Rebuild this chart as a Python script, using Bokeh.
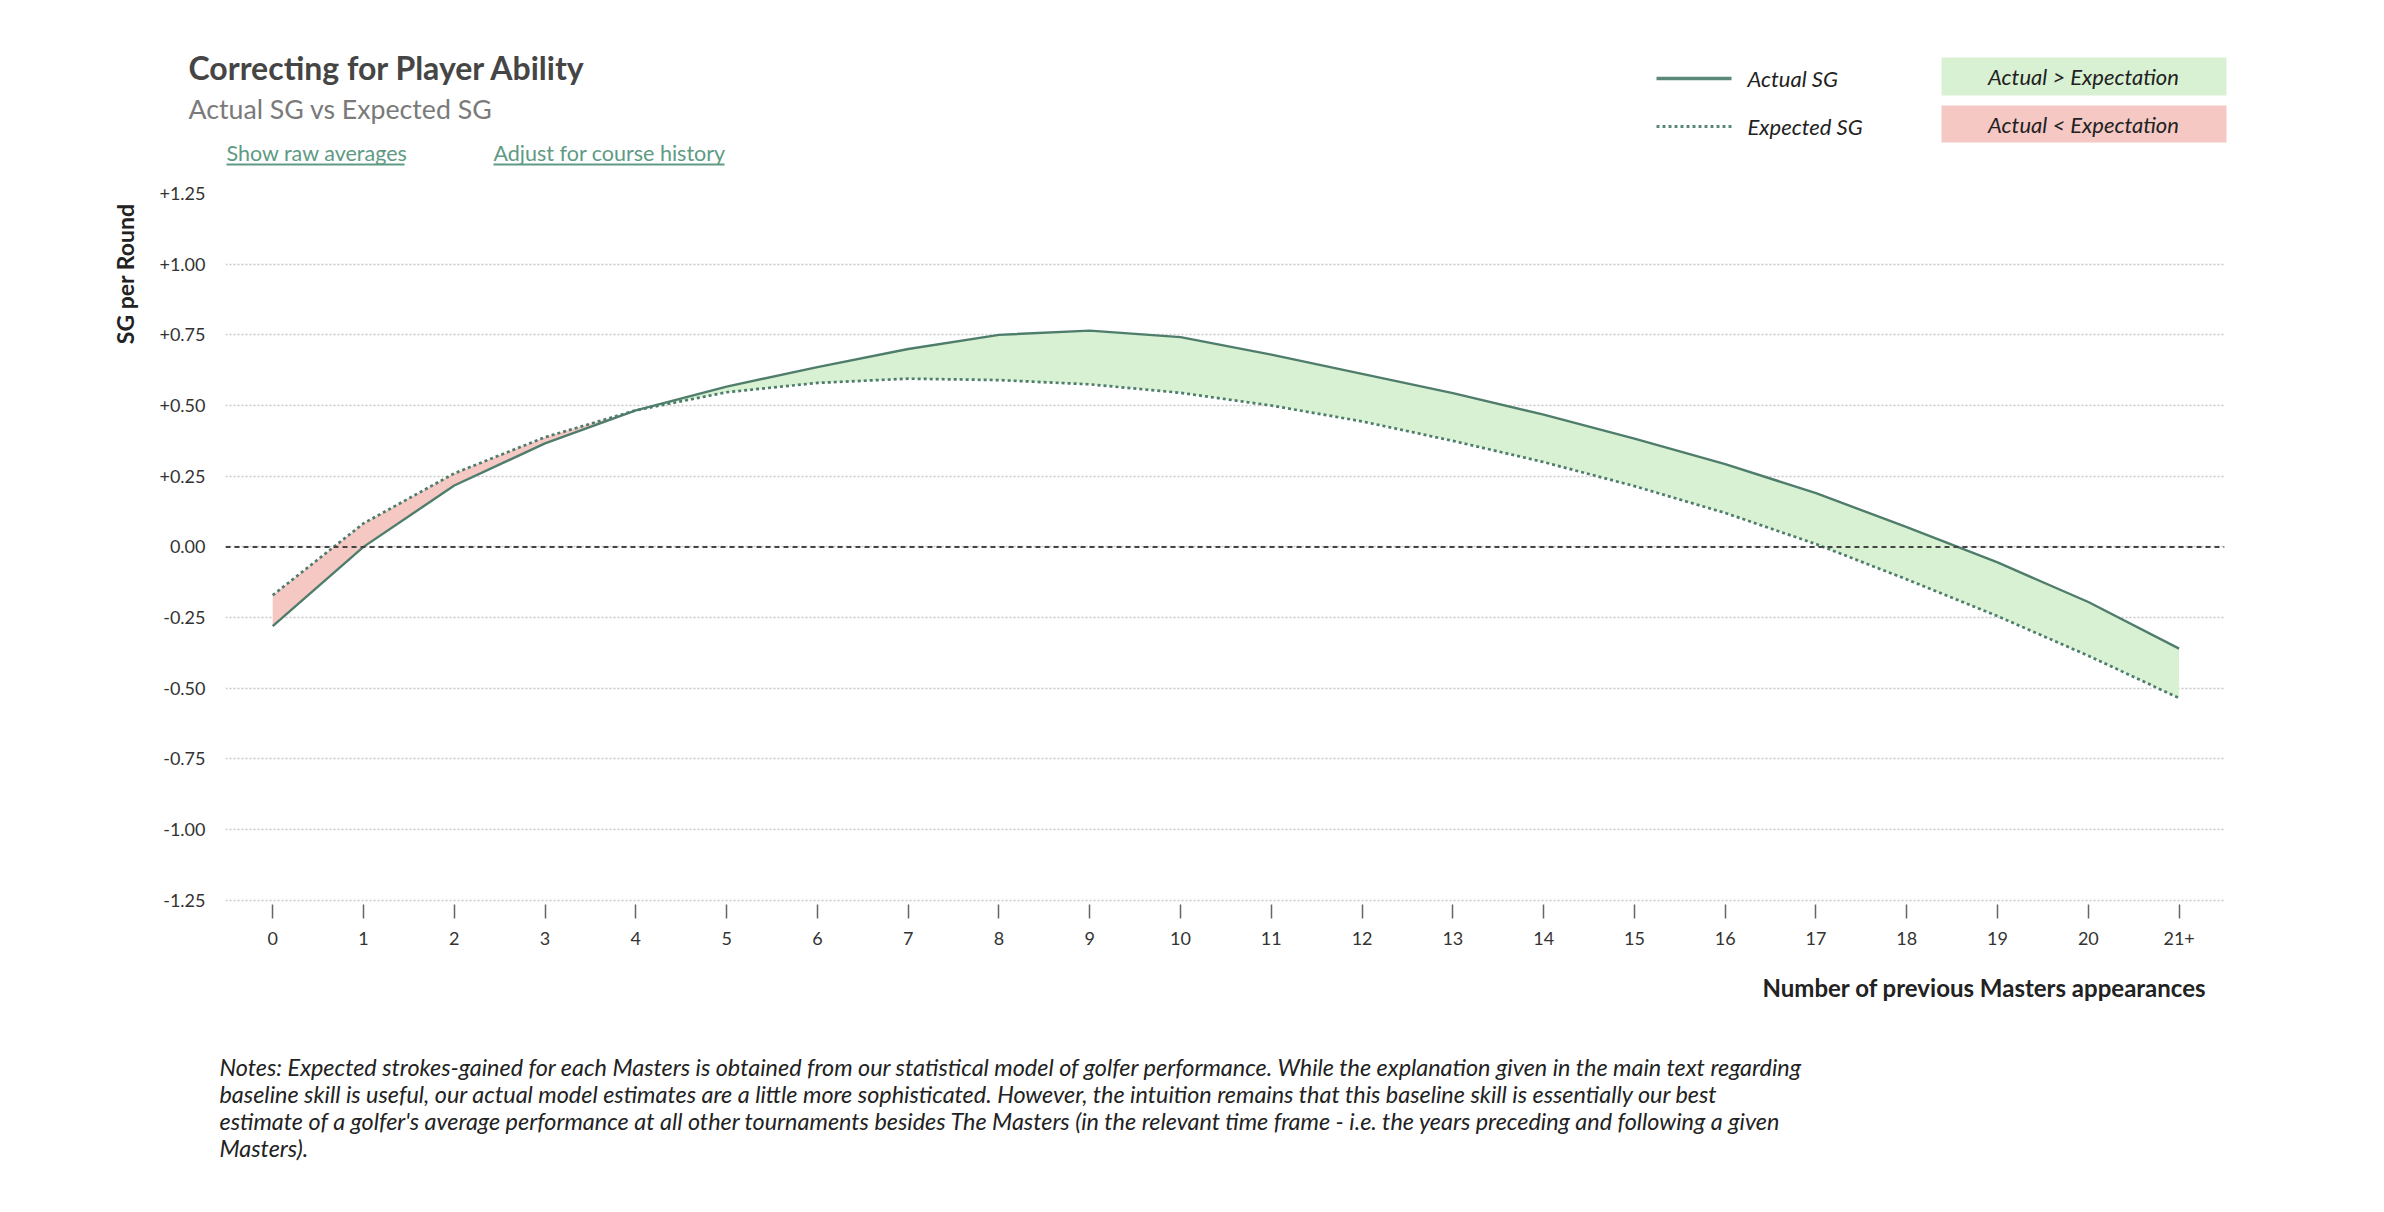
from bokeh.plotting import figure
from bokeh.models import (Range1d, FixedTicker, CustomJSTickFormatter, Span, Label, Title,
                          ColumnDataSource)
from bokeh.embed import file_html
from bokeh.resources import INLINE

# ---------------- data ----------------
appearances = list(range(22))
x_tick_labels = [str(i) for i in range(21)] + ["21+"]
actual_sg = [-0.28, 0.0, 0.217, 0.366, 0.483, 0.567, 0.636, 0.70, 0.75, 0.765, 0.742,
             0.68, 0.612, 0.544, 0.468, 0.383, 0.293, 0.19, 0.07, -0.055, -0.195, -0.36]
expected_sg = [-0.171, 0.083, 0.26, 0.388, 0.483, 0.547, 0.58, 0.595, 0.59, 0.575, 0.545,
               0.50, 0.444, 0.375, 0.30, 0.215, 0.12, 0.01, -0.115, -0.245, -0.385, -0.535]
y_ticks = [-1.25, -1.0, -0.75, -0.5, -0.25, 0.0, 0.25, 0.5, 0.75, 1.0, 1.25]
crossing_index = 4  # actual below expectation before, above after
legend_lines = ["Actual SG", "Expected SG"]
legend_boxes = ["Actual > Expectation", "Actual < Expectation"]
links = ["Show raw averages", "Adjust for course history"]
notes = [
    "Notes: Expected strokes-gained for each Masters is obtained from our statistical model of golfer performance. While the explanation given in the main text regarding",
    "baseline skill is useful, our actual model estimates are a little more sophisticated. However, the intuition remains that this baseline skill is essentially our best",
    "estimate of a golfer's average performance at all other tournaments besides The Masters (in the relevant time frame - i.e. the years preceding and following a given",
    "Masters).",
]

FONT = "Lato"
LINE_COL = "#4f7d6c"
GREEN = "#d8f1d2"
RED = "#f5c8c4"
LINK_COL = "#5e9a84"
W = 2368
H_HEAD, H_MAIN, H_FOOT = 183, 782, 231


def blank(height, y_top):
    f = figure(width=W, height=height, output_backend="svg", toolbar_location=None,
               x_range=Range1d(0, W), y_range=Range1d(y_top + height, y_top),
               x_axis_type=None, y_axis_type=None, min_border=0)
    f.outline_line_color = None
    f.grid.visible = False
    f.border_fill_color = "white"
    f.background_fill_color = "white"
    return f


def lab(f, x, y, text, size, color="#222222", style="normal", align="left"):
    f.add_layout(Label(x=x, y=y, text=text, text_font=FONT, text_font_size=size,
                       text_font_style=style, text_color=color, text_align=align,
                       text_baseline="middle"))


# ---------------- header ----------------
head = blank(H_HEAD, 0)
lab(head, 188, 67, "Correcting for Player Ability", "32px", "#454545", "bold")
lab(head, 188, 108, "Actual SG vs Expected SG", "26.7px", "#7a7a7a")
for (x0, x1), txt in zip([(226, 404), (493, 724)], links):
    lab(head, x0, 152, txt, "21.5px", LINK_COL)
    head.segment(x0=[x0], y0=[164], x1=[x1], y1=[164], line_color=LINK_COL, line_width=2)

head.segment(x0=[1656], y0=[78], x1=[1731], y1=[78], line_color="#5a8a77", line_width=3.5)
head.segment(x0=[1656], y0=[126], x1=[1731], y1=[126], line_color="#5a8a77", line_width=3,
             line_dash="3 3")
for yc, txt in zip([78, 126], legend_lines):
    lab(head, 1747, yc, txt, "22px", "#222222", "italic")

head.quad(left=[1941, 1941], right=[2226, 2226], top=[57, 105], bottom=[95, 142],
          fill_color=[GREEN, RED], line_color=None)
for yc, txt in zip([76, 123.5], legend_boxes):
    lab(head, 2083, yc, txt, "22px", "#222222", "italic", align="center")

# ---------------- main chart ----------------
p = figure(width=W, height=H_MAIN, output_backend="svg", toolbar_location=None,
           x_range=Range1d(-0.52, 21.5), y_range=Range1d(-1.265, 1.25),
           min_border_left=225, min_border_right=W - 2224, min_border_top=10,
           min_border_bottom=H_MAIN - 10 - 711)
p.outline_line_color = None
p.background_fill_color = "white"
p.border_fill_color = "white"

p.xgrid.grid_line_color = None
p.ygrid.ticker = FixedTicker(ticks=y_ticks)
p.ygrid.grid_line_color = "#c8c8c8"
p.ygrid.grid_line_dash = "2 2"
p.ygrid.grid_line_width = 1.5

p.yaxis.ticker = FixedTicker(ticks=y_ticks)
p.yaxis.formatter = CustomJSTickFormatter(code="return (tick > 0 ? '+' : '') + tick.toFixed(2);")
p.yaxis.axis_line_color = None
p.yaxis.major_tick_line_color = None
p.yaxis.minor_tick_line_color = None
p.yaxis.major_label_standoff = 14
p.yaxis.major_label_text_font = FONT
p.yaxis.major_label_text_font_size = "18px"
p.yaxis.major_label_text_color = "#333333"

p.xaxis.ticker = FixedTicker(ticks=appearances)
p.xaxis.formatter = CustomJSTickFormatter(args=dict(labels=x_tick_labels),
                                          code="return labels[Math.round(tick)];")
p.xaxis.axis_line_color = None
p.xaxis.minor_tick_line_color = None
p.xaxis.major_tick_in = 0
p.xaxis.major_tick_out = 14
p.xaxis.major_tick_line_color = "#666666"
p.xaxis.major_tick_line_width = 1.5
p.xaxis.major_label_standoff = 13
p.xaxis.major_label_text_font = FONT
p.xaxis.major_label_text_font_size = "18px"
p.xaxis.major_label_text_color = "#333333"

red_src = ColumnDataSource(dict(x=appearances[:crossing_index + 1],
                                a=actual_sg[:crossing_index + 1],
                                e=expected_sg[:crossing_index + 1]))
green_src = ColumnDataSource(dict(x=appearances[crossing_index:],
                                  a=actual_sg[crossing_index:],
                                  e=expected_sg[crossing_index:]))
p.varea(x="x", y1="a", y2="e", source=red_src, fill_color=RED)
p.varea(x="x", y1="a", y2="e", source=green_src, fill_color=GREEN)

p.add_layout(Span(location=0, dimension="width", line_color="#444444",
                  line_dash="5 4", line_width=2))

p.line(appearances, actual_sg, line_color=LINE_COL, line_width=2.4)
p.line(appearances, expected_sg, line_color=LINE_COL, line_width=2.7, line_dash="3 3")

p.add_layout(Title(text="SG per Round", align="right", offset=10, standoff=36,
                   text_font=FONT, text_font_style="bold", text_font_size="23px",
                   text_color="#222222"), "left")

# ---------------- footer ----------------
top_foot = H_HEAD + H_MAIN
foot = blank(H_FOOT, top_foot)
lab(foot, 2206, 987, "Number of previous Masters appearances", "24px", "#222222", "bold",
    align="right")
for i, line in enumerate(notes):
    lab(foot, 219, 1066 + 27.3 * i, line, "23.4px", "#222222", "italic")

open("out.html", "w").write(file_html([head, p, foot], INLINE))
